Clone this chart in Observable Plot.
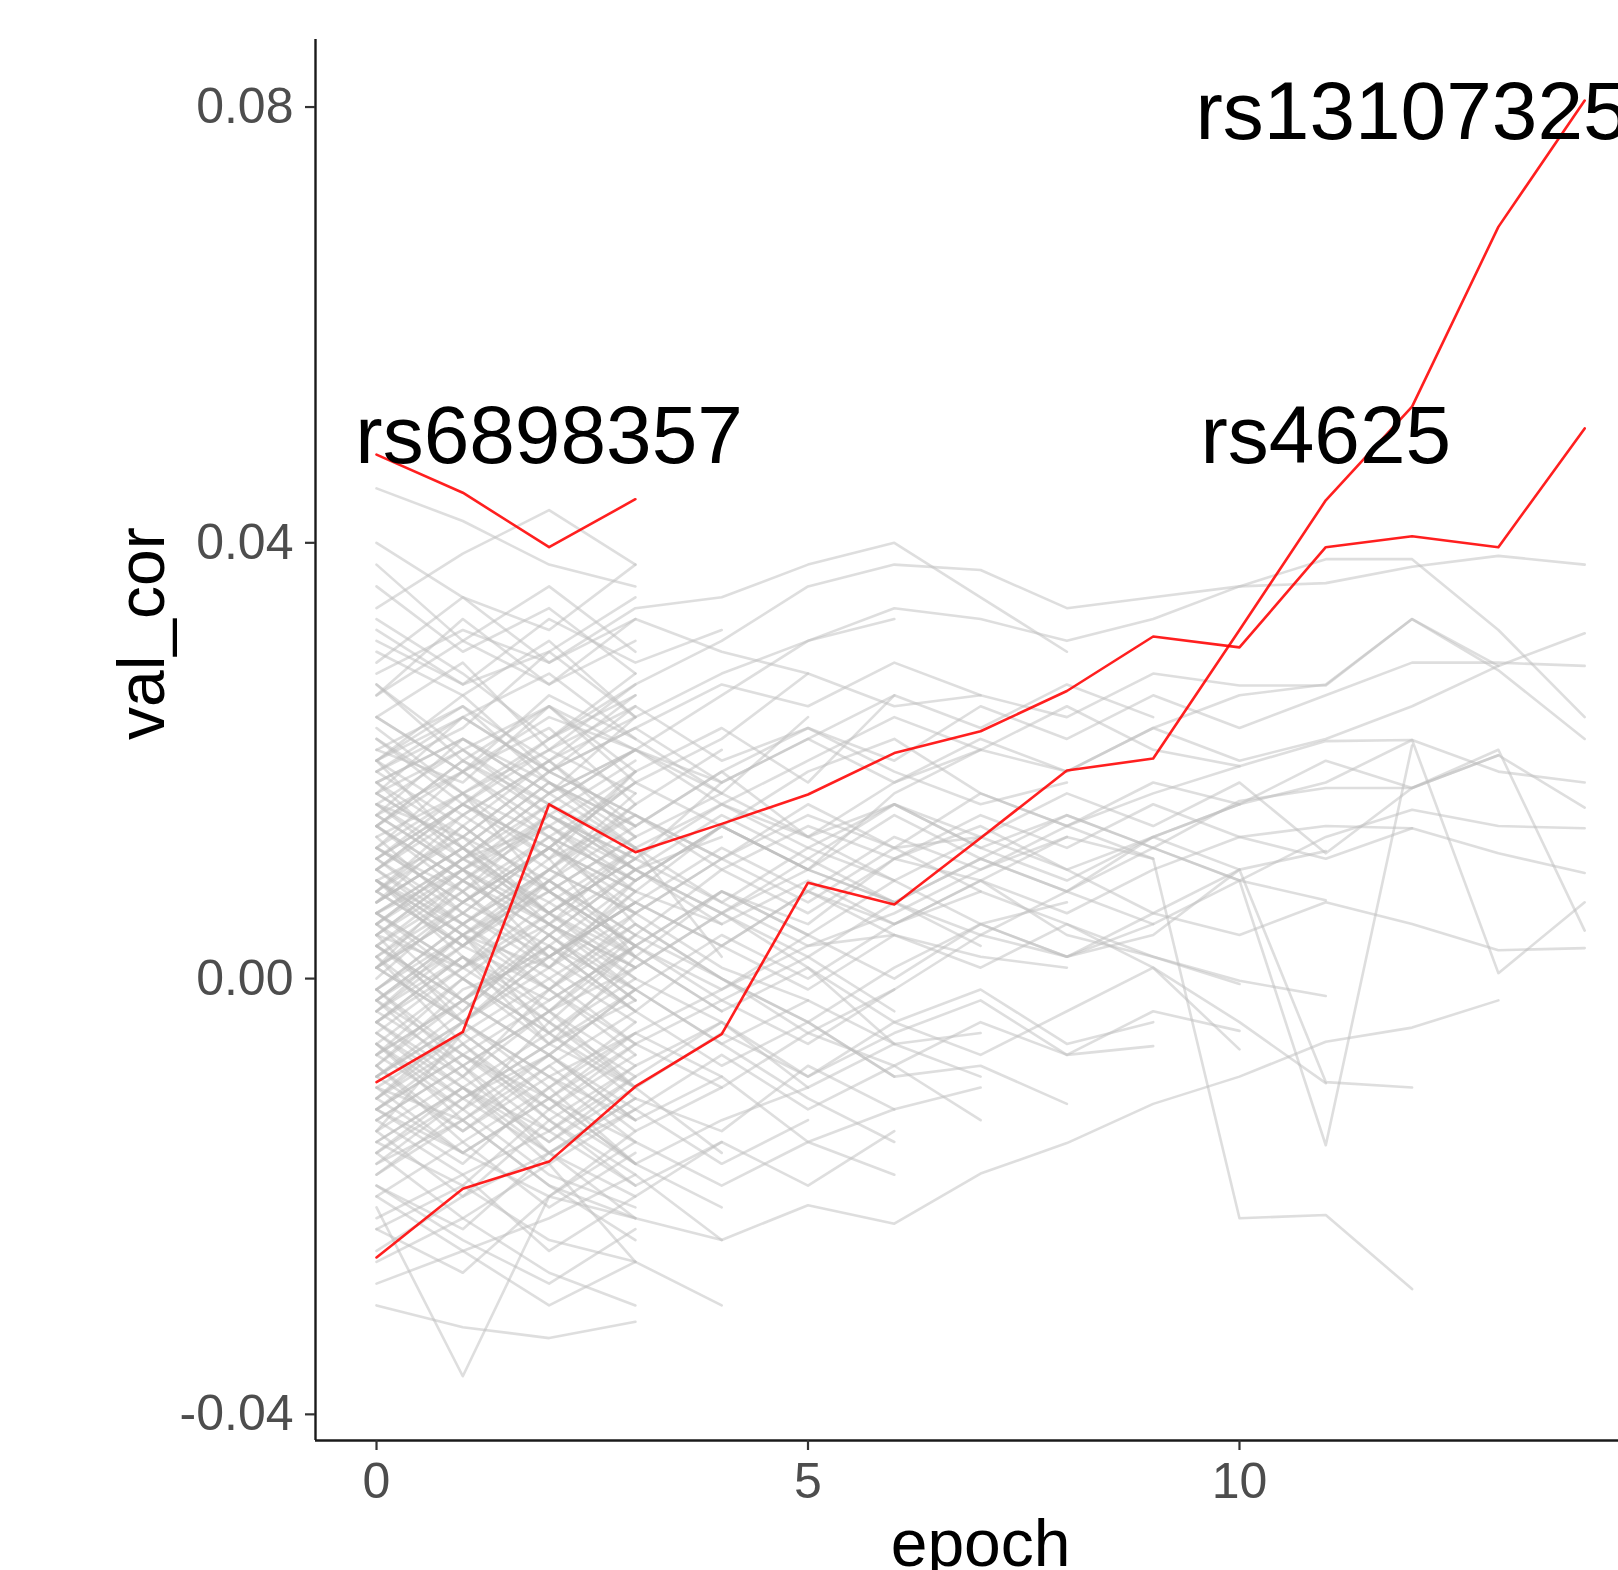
<!DOCTYPE html>
<html><head><meta charset="utf-8">
<script src="https://cdn.jsdelivr.net/npm/d3@7"></script>
<script src="https://cdn.jsdelivr.net/npm/@observablehq/plot@0.6"></script>
<style>
html,body{margin:0;padding:0;background:#fff;overflow:hidden;}
#chart svg{display:block;overflow:hidden;}
</style></head><body><div id="chart"></div>
<script>
// ---- axis ticks / extents ----
const epochTicks = [0, 5, 10];
const valTicks = [-0.04, 0, 0.04, 0.08];
const xDomain = [-0.707, 14.392];
const yDomain = [-0.0424, 0.0862];
const epochRange = [0, 14];
const xTitle = "epoch";
const yTitle = "val_cor";

// ---- grey background series (val_cor per epoch, starting at epoch 0) ----
const grayLines = [
  [0.021, 0.018, 0.025, 0.019],
  [0.015, 0.022, 0.017, 0.024],
  [0.009, 0.013, 0.006, 0.011],
  [0.003, -0.002, 0.005, 0.001],
  [-0.004, 0.002, -0.006, -0.001],
  [-0.011, -0.006, -0.013, -0.008],
  [-0.015, -0.019, -0.012, -0.017],
  [0.018, 0.011, 0.014, 0.008],
  [0.012, 0.019, 0.023, 0.016],
  [0.006, 0.001, 0.009, 0.014],
  [0.000, 0.007, 0.003, -0.003],
  [-0.007, -0.012, -0.004, -0.010],
  [-0.013, -0.008, -0.016, -0.011],
  [0.024, 0.029, 0.021, 0.027],
  [0.027, 0.020, 0.016, 0.012],
  [0.016, 0.010, 0.002, 0.007],
  [0.010, 0.004, -0.003, 0.004],
  [0.001, 0.009, 0.015, 0.010],
  [-0.002, -0.009, -0.001, 0.006],
  [-0.009, -0.003, 0.004, -0.002],
  [-0.017, -0.011, -0.007, -0.013],
  [-0.020, -0.015, -0.021, -0.016],
  [0.013, 0.017, 0.011, 0.019],
  [0.007, 0.012, 0.018, 0.013],
  [0.004, -0.004, -0.009, -0.005],
  [-0.005, -0.010, -0.014, -0.019],
  [-0.012, -0.017, -0.010, -0.004],
  [0.019, 0.014, 0.008, 0.003],
  [0.030, 0.026, 0.031, 0.024],
  [0.033, 0.028, 0.022, 0.026],
  [0.040, 0.035, 0.029, 0.033],
  [0.038, 0.031, 0.036, 0.030],
  [0.045, 0.042, 0.038, 0.036],
  [0.034, 0.039, 0.043, 0.038],
  [-0.022, -0.018, -0.025, -0.020],
  [-0.025, -0.020, -0.016, -0.022],
  [-0.019, -0.024, -0.028, -0.023],
  [-0.030, -0.032, -0.033, -0.0315],
  [-0.021, -0.0365, -0.020, -0.015],
  [0.022, 0.016, 0.012, 0.018],
  [0.011, 0.005, 0.011, 0.002],
  [0.005, 0.011, 0.016, 0.021],
  [-0.001, 0.004, -0.005, -0.011],
  [-0.008, -0.001, 0.002, 0.008],
  [-0.014, -0.009, -0.003, 0.001],
  [0.017, 0.024, 0.028, 0.022],
  [0.014, 0.008, 0.013, 0.005],
  [0.002, -0.006, -0.012, -0.007],
  [-0.003, 0.003, 0.008, 0.003],
  [-0.010, -0.016, -0.020, -0.014],
  [0.008, 0.015, 0.010, 0.017],
  [0.020, 0.026, 0.019, 0.015],
  [-0.016, -0.022, -0.017, -0.026],
  [-0.006, -0.013, -0.019, -0.024],
  [0.026, 0.033, 0.027, 0.031],
  [0.013, 0.006, 0.001, 0.009],
  [0.007, 0.014, 0.020, 0.026],
  [-0.009, -0.014, -0.008, -0.003],
  [0.016, 0.013, 0.019, 0.025],
  [-0.014, -0.005, 0.000, -0.006],
  [0.011, 0.017, 0.008, 0.003],
  [0.002, 0.008, 0.001, 0.006],
  [-0.004, -0.010, -0.017, -0.012],
  [0.019, 0.023, 0.030, 0.035],
  [0.005, -0.002, 0.004, 0.010],
  [-0.011, -0.004, -0.009, -0.015],
  [-0.018, -0.012, -0.018, -0.021],
  [0.009, 0.002, -0.004, -0.009],
  [0.023, 0.017, 0.022, 0.028],
  [-0.001, -0.007, -0.013, -0.018],
  [0.014, 0.020, 0.025, 0.021],
  [-0.007, 0.000, 0.006, 0.012],
  [0.003, 0.009, 0.004, -0.002],
  [-0.016, -0.010, -0.005, -0.010],
  [0.008, 0.003, 0.010, 0.016],
  [-0.023, -0.027, -0.020, -0.022],
  [-0.026, -0.022, -0.027, -0.030],
  [-0.020, -0.025, -0.030, -0.026],
  [0.036, 0.030, 0.034, 0.028],
  [0.029, 0.035, 0.032, 0.038],
  [0.017, 0.012, 0.006, 0.011],
  [0.010, 0.015, 0.020, 0.014],
  [0.004, 0.010, 0.014, 0.019],
  [-0.002, 0.004, 0.009, 0.004],
  [-0.006, 0.000, -0.005, 0.001],
  [-0.012, -0.006, -0.001, -0.007],
  [-0.015, -0.010, -0.015, -0.009],
  [0.020, 0.015, 0.020, 0.013],
  [0.014, 0.009, 0.004, -0.001],
  [0.008, 0.014, 0.008, 0.002],
  [0.001, -0.004, 0.002, 0.007],
  [-0.004, -0.009, -0.015, -0.010],
  [-0.010, -0.013, -0.007, -0.001],
  [0.018, 0.022, 0.018, 0.012],
  [0.012, 0.007, 0.012, 0.018],
  [0.005, 0.000, -0.005, 0.000],
  [-0.001, 0.005, -0.001, -0.006],
  [-0.008, -0.014, -0.009, -0.013],
  [-0.013, -0.018, -0.014, -0.008],
  [0.015, 0.019, 0.014, 0.009],
  [0.009, 0.004, 0.008, 0.013],
  [0.002, 0.007, 0.012, 0.008],
  [-0.005, -0.011, -0.006, -0.002],
  [-0.011, -0.005, -0.011, -0.017],
  [0.021, 0.025, 0.020, 0.024],
  [0.006, 0.010, 0.005, 0.000],
  [-0.003, -0.008, -0.003, 0.003],
  [0.011, 0.016, 0.021, 0.017],
  [-0.009, -0.004, 0.001, -0.004],
  [0.016, 0.021, 0.015, 0.020],
  // end at epoch 4
  [0.012, 0.008, 0.015, 0.011, 0.018],
  [-0.003, 0.004, 0.001, 0.008, 0.005],
  [-0.012, -0.007, -0.011, -0.005, -0.009],
  [0.024, 0.019, 0.026, 0.022, 0.017],
  [0.006, 0.000, -0.006, 0.002, -0.003],
  [-0.018, -0.013, -0.008, -0.014, -0.010],
  [0.017, 0.021, 0.016, 0.010, 0.013],
  [0.001, 0.007, 0.012, 0.006, 0.011],
  [-0.008, -0.015, -0.010, -0.017, -0.021],
  [-0.023, -0.019, -0.024, -0.026, -0.030],
  [0.031, 0.027, 0.033, 0.029, 0.032],
  [0.009, 0.003, 0.009, 0.016, 0.021],
  [-0.014, -0.020, -0.013, -0.019, -0.015],
  [0.020, 0.012, 0.006, 0.000, -0.004],
  [-0.001, -0.008, -0.003, -0.010, -0.016],
  [0.004, 0.010, 0.005, 0.012, 0.002],
  [-0.028, -0.025, -0.022, -0.018, -0.024],
  // end at epoch 5
  [0.015, 0.010, 0.016, 0.021, 0.017, 0.024],
  [-0.005, 0.001, -0.004, 0.003, 0.008, 0.004],
  [0.007, 0.012, 0.005, -0.001, -0.006, -0.002],
  [-0.013, -0.008, -0.014, -0.009, -0.004, -0.010],
  [0.027, 0.021, 0.025, 0.018, 0.022, 0.028],
  [-0.019, -0.023, -0.016, -0.012, -0.017, -0.013],
  [0.002, -0.004, 0.003, 0.009, 0.014, 0.010],
  // end at epoch 6
  [0.010, 0.016, 0.012, 0.019, 0.023, 0.018, 0.026],
  [-0.008, -0.002, -0.007, -0.001, -0.006, -0.011, -0.015],
  [0.003, -0.003, 0.004, 0.010, 0.006, 0.001, -0.006],
  [0.020, 0.025, 0.018, 0.014, 0.019, 0.013, 0.009],
  [-0.015, -0.010, -0.016, -0.011, -0.014, -0.008, -0.012],
  [0.032, 0.027, 0.030, 0.024, 0.028, 0.031, 0.033],
  [0.005, 0.011, 0.017, 0.012, 0.007, 0.003, 0.004],
  [0.003, -0.002, 0.003, -0.003, -0.008, -0.004, -0.009],
  [0.010, 0.005, 0.000, 0.005, 0.000, -0.005, -0.001],
  [-0.012, -0.016, -0.011, -0.015, -0.019, -0.015, -0.018],
  [-0.002, -0.007, -0.002, 0.003, -0.002, 0.002, -0.003],
  [-0.016, -0.011, -0.016, -0.020, -0.015, -0.019, -0.014],
  // end at epoch 7
  [-0.006, -0.012, -0.007, -0.013, -0.009, -0.015, -0.012, -0.010],
  [0.009, 0.004, 0.010, 0.006, 0.001, -0.002, -0.006, -0.005],
  [0.018, 0.013, 0.019, 0.015, 0.011, 0.015, 0.012, 0.013],
  [0.026, 0.031, 0.027, 0.033, 0.030, 0.028, 0.025, 0.026],
  [-0.011, -0.016, -0.011, -0.017, -0.013, -0.010, -0.006, -0.009],
  [0.001, 0.006, 0.012, 0.008, 0.014, 0.010, 0.017, 0.021],
  [-0.007, -0.002, -0.007, -0.012, -0.007, -0.012, -0.008, -0.013],
  [0.006, 0.011, 0.006, 0.001, 0.006, 0.002, 0.007, 0.003],
  [0.015, 0.010, 0.015, 0.010, 0.005, 0.009, 0.005, 0.008],
  // end at epoch 8
  [-0.002, 0.004, -0.001, 0.005, 0.000, -0.004, -0.009, -0.008, -0.0115],
  [0.011, 0.006, 0.012, 0.007, 0.003, 0.008, 0.004, 0.002, 0.001],
  [0.022, 0.017, 0.021, 0.025, 0.020, 0.023, 0.019, 0.016, 0.018],
  [0.028, 0.032, 0.029, 0.034, 0.035, 0.038, 0.040, 0.035, 0.030],
  [-0.009, -0.004, -0.010, -0.005, -0.001, 0.003, 0.006, 0.010, 0.013],
  [0.014, 0.020, 0.015, 0.011, 0.016, 0.012, 0.009, 0.005, 0.007],
  // end at epoch 9
  [0.006, 0.001, 0.007, 0.002, -0.003, 0.001, -0.004, -0.001, -0.006, -0.0040],
  [-0.004, 0.002, -0.003, -0.008, -0.004, -0.009, -0.005, -0.002, -0.007, -0.0062],
  [0.016, 0.011, 0.017, 0.021, 0.018, 0.022, 0.026, 0.023, 0.027, 0.024],
  [0.024, 0.019, 0.013, 0.018, 0.014, 0.019, 0.022, 0.017, 0.014, 0.011],
  [-0.012, -0.007, -0.012, -0.006, -0.002, -0.006, -0.001, 0.004, 0.002, 0.005],
  // end at epoch 10
  [0.003, 0.008, 0.002, 0.007, 0.003, 0.008, 0.005, 0.009, 0.004, 0.002, -0.0005],
  [-0.010, -0.005, -0.011, -0.006, -0.010, -0.005, -0.008, -0.004, -0.007, -0.003, -0.0048],
  [0.012, 0.007, 0.013, 0.009, 0.014, 0.010, 0.007, 0.011, 0.008, 0.013, 0.016],
  [0.019, 0.024, 0.019, 0.023, 0.018, 0.022, 0.018, 0.021, 0.025, 0.021, 0.0195],
  [-0.001, 0.005, 0.010, 0.006, 0.011, 0.007, 0.012, 0.008, 0.005, 0.001, -0.0065],
  [0.008, 0.013, 0.009, 0.003, 0.008, 0.004, 0.009, 0.013, 0.010, 0.006, 0.010],
  // end at epoch 11
  [0.001, -0.004, 0.002, -0.003, 0.003, -0.001, 0.004, 0.001, 0.005, 0.002, -0.0002, -0.0016],
  [-0.006, -0.011, -0.006, -0.010, -0.005, -0.009, -0.004, -0.007, -0.003, 0.001, -0.004, -0.0096],
  [0.014, 0.009, 0.014, 0.010, 0.015, 0.011, 0.016, 0.012, 0.009, 0.013, 0.010, 0.0117],
  [0.004, 0.009, 0.005, 0.010, 0.006, 0.011, 0.007, 0.004, 0.008, 0.005, 0.009, 0.0072],
  // end at epoch 12
  [0.004, 0.001, 0.006, 0.002, 0.008, 0.005, 0.011, 0.009, 0.013, 0.011, -0.022, -0.0217, -0.0285],
  [-0.003, 0.002, -0.002, 0.003, -0.001, 0.004, 0.000, 0.005, 0.002, 0.004, 0.010, -0.0095, -0.0100],
  [0.011, 0.016, 0.011, 0.015, 0.010, 0.014, 0.011, 0.015, 0.012, 0.016, 0.013, 0.014, 0.0138],
  [0.007, 0.012, 0.008, 0.013, 0.017, 0.013, 0.016, 0.012, 0.015, 0.012, 0.009, -0.0153, 0.0214],
  // end at epoch 13
  [-0.017, -0.013, -0.019, -0.022, -0.024, -0.0208, -0.0225, -0.0179, -0.0151, -0.0115, -0.009, -0.0058, -0.0045, -0.002],
  [0.018, 0.022, 0.017, 0.021, 0.016, 0.020, 0.024, 0.021, 0.019, 0.023, 0.026, 0.027, 0.033, 0.0287],
  [0.009, 0.005, 0.010, 0.015, 0.011, 0.016, 0.012, 0.017, 0.014, 0.018, 0.016, 0.020, 0.0175, 0.0205],
  // end at epoch 14
  [0.010, 0.016, 0.022, 0.027, 0.031, 0.036, 0.038, 0.0375, 0.034, 0.035, 0.036, 0.0363, 0.0378, 0.0388, 0.038],
  [0.014, 0.019, 0.024, 0.021, 0.026, 0.031, 0.034, 0.033, 0.031, 0.033, 0.036, 0.0385, 0.0385, 0.032, 0.024],
  [0.020, 0.024, 0.019, 0.023, 0.027, 0.025, 0.029, 0.026, 0.024, 0.028, 0.0269, 0.0269, 0.033, 0.0283, 0.022],
  [0.006, 0.011, 0.007, 0.012, 0.016, 0.013, 0.018, 0.022, 0.019, 0.023, 0.020, 0.022, 0.025, 0.0287, 0.0317],
  [0.017, 0.012, 0.018, 0.014, 0.019, 0.023, 0.020, 0.025, 0.022, 0.026, 0.023, 0.026, 0.029, 0.029, 0.0287],
  [0.001, 0.006, 0.002, 0.007, 0.012, 0.008, 0.013, 0.010, 0.014, 0.017, 0.0195, 0.0218, 0.0219, 0.019, 0.018],
  [-0.004, 0.001, 0.005, 0.001, 0.006, 0.010, 0.007, 0.011, 0.015, 0.012, 0.0163, 0.0175, 0.0175, 0.0205, 0.0157],
  [0.008, 0.003, 0.009, 0.004, 0.010, 0.006, 0.011, 0.014, 0.010, 0.013, 0.016, 0.018, 0.0219, 0.0005, 0.007],
  [0.012, 0.017, 0.013, 0.009, 0.014, 0.010, 0.015, 0.011, 0.008, 0.012, 0.009, 0.013, 0.0155, 0.014, 0.0138],
  [-0.007, -0.002, 0.003, -0.001, 0.004, 0.000, 0.005, 0.009, 0.006, 0.010, 0.013, 0.011, 0.0138, 0.0115, 0.0097],
  [0.005, 0.010, 0.006, 0.011, 0.007, 0.012, 0.016, 0.013, 0.017, 0.014, 0.018, 0.0115, 0.0175, 0.021, 0.0044],
  [-0.002, 0.003, -0.001, 0.004, 0.000, -0.004, 0.001, 0.005, 0.002, 0.006, 0.004, 0.007, 0.005, 0.0026, 0.0028]
];

// ---- highlighted (red) series ----
const redSnp6898357 = [0.0481, 0.0446, 0.0396, 0.0440];
const redSnp4625 = [-0.0095, -0.0049, 0.0160, 0.0116, 0.0142, 0.0169, 0.0207, 0.0227, 0.0264, 0.0314, 0.0304, 0.0396, 0.0406, 0.0396, 0.0505];
const redSnp13107325 = [-0.0256, -0.0193, -0.0168, -0.0099, -0.0051, 0.0088, 0.0068, 0.0129, 0.0191, 0.0202, 0.0320, 0.0439, 0.0525, 0.0690, 0.0806];

// ---- labels ----
const labelNames = ["rs6898357", "rs4625", "rs13107325"];
const labelEpochs = [2, 11, 12];
const labelValues = [0.0497, 0.0497, 0.0795];

const grayRows = grayLines.flatMap((vals, id) => vals.map((val, epoch) => ({id, epoch, val})));
const redRows = [redSnp6898357, redSnp4625, redSnp13107325]
  .flatMap((vals, id) => vals.map((val, epoch) => ({id, epoch, val})));
const labelRows = labelNames.map((name, i) => ({name, epoch: labelEpochs[i], val: labelValues[i]}));

const font = "'Liberation Sans', Arial, Helvetica, sans-serif";

const chart = Plot.plot({
  width: 1618,
  height: 1570,
  marginLeft: 315,
  marginRight: 0,
  marginTop: 39,
  marginBottom: 130,
  x: {domain: xDomain},
  y: {domain: yDomain},
  style: {fontFamily: font, background: "#fff"},
  marks: [
    Plot.line(grayRows, {x: "epoch", y: "val", z: "id", stroke: "#bdbdbd", strokeOpacity: 0.5, strokeWidth: 2.6}),
    Plot.line(redRows, {x: "epoch", y: "val", z: "id", stroke: "red", strokeOpacity: 0.88, strokeWidth: 2.6}),
    Plot.text(labelRows, {x: "epoch", y: "val", text: "name", fontSize: 82, fill: "black", textAnchor: "middle", lineAnchor: "middle"}),
    Plot.ruleX([xDomain[0]], {stroke: "#1a1a1a", strokeWidth: 2.4}),
    Plot.ruleY([yDomain[0]], {stroke: "#1a1a1a", strokeWidth: 2.4}),
    Plot.axisY(valTicks, {tickSize: 10, tickPadding: 12, tickFormat: d => d.toFixed(2), fontSize: 50, fill: "#4d4d4d", stroke: "#333", strokeWidth: 2.2, label: null}),
    Plot.axisX(epochTicks, {tickSize: 10, tickPadding: 12, tickFormat: d => String(d), fontSize: 50, fill: "#4d4d4d", stroke: "#333", strokeWidth: 2.2, label: null}),
    Plot.text([xTitle], {x: () => d3.mean(epochRange), frameAnchor: "bottom", dy: 125, lineAnchor: "bottom", fontSize: 66, fill: "black", text: d => d}),
    Plot.text([yTitle], {y: () => d3.mean(yDomain), frameAnchor: "left", dx: -152, rotate: -90, lineAnchor: "bottom", fontSize: 66, fill: "black", text: d => d})
  ]
});
document.getElementById("chart").appendChild(chart);
</script>
</body></html>
